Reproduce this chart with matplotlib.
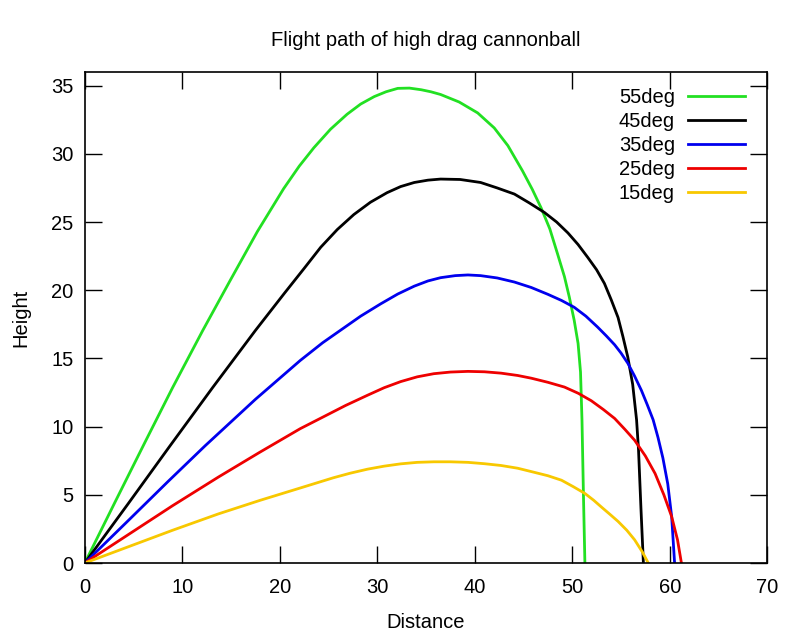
import matplotlib
matplotlib.use("Agg")
import matplotlib.pyplot as plt

plt.rcParams['font.family'] = ['Liberation Sans', 'DejaVu Sans']

labels = ["55deg", "45deg", "35deg", "25deg", "15deg"]
colors = ["#22e022", "#000000", "#0000ee", "#ee0000", "#f8c800"]

x55 = [0, 3.09, 6.17, 9.0, 12.1, 14.9, 17.7, 20.4, 22.0, 23.5, 25.2, 26.9, 28.3, 29.7, 30.9, 32.1, 33.3, 34.5, 35.5, 36.5, 38.4, 40.3, 42.0, 43.4, 44.9, 45.9, 46.8, 47.7, 48.5, 49.2, 49.7, 50.2, 50.6, 50.85, 51.0, 51.15, 51.3]
y55 = [0, 4.45, 8.85, 12.85, 17.05, 20.7, 24.3, 27.45, 29.1, 30.45, 31.8, 32.9, 33.65, 34.2, 34.55, 34.8, 34.82, 34.7, 34.55, 34.35, 33.8, 33.0, 31.9, 30.6, 28.75, 27.4, 26.05, 24.5, 22.65, 21.0, 19.5, 17.8, 16.1, 14.0, 10.5, 5.0, 0.0]

x45 = [0, 4.4, 8.7, 13.1, 17.5, 20.5, 22.5, 24.2, 25.9, 27.6, 29.3, 31.0, 32.4, 33.8, 35.2, 36.5, 38.5, 40.6, 42.3, 44.07, 45.6, 47.15, 48.4, 49.56, 50.6, 51.6, 52.5, 53.3, 54.0, 54.7, 55.2, 55.7, 56.2, 56.6, 56.8, 57.05, 57.3]
y45 = [0, 4.3, 8.55, 12.85, 17.05, 19.8, 21.6, 23.15, 24.45, 25.55, 26.45, 27.15, 27.6, 27.9, 28.07, 28.15, 28.12, 27.9, 27.5, 27.05, 26.4, 25.7, 25.0, 24.2, 23.35, 22.4, 21.5, 20.5, 19.3, 18.0, 16.6, 15.1, 13.1, 10.5, 8.3, 4.0, 0.0]

x35 = [0, 4.3, 8.5, 12.35, 17.5, 22.1, 24.4, 26.1, 28.3, 30.35, 32.1, 33.8, 35.2, 36.5, 38.0, 39.3, 40.6, 42.3, 44.07, 45.8, 47.5, 48.9, 50.2, 51.4, 52.6, 53.5, 54.35, 55.0, 55.7, 56.4, 57.1, 57.7, 58.3, 58.8, 59.3, 59.8, 60.2, 60.5]
y35 = [0, 3.0, 5.95, 8.6, 12.0, 14.85, 16.15, 17.0, 18.1, 19.0, 19.72, 20.3, 20.68, 20.92, 21.07, 21.12, 21.07, 20.9, 20.6, 20.2, 19.7, 19.25, 18.75, 18.1, 17.3, 16.65, 16.0, 15.4, 14.65, 13.7, 12.65, 11.6, 10.5, 9.2, 7.7, 5.8, 3.4, 0.0]

x25 = [0, 4.5, 9.0, 13.7, 17.9, 22.1, 24.7, 26.75, 29.0, 30.7, 32.4, 34.1, 35.8, 37.5, 39.3, 41.0, 42.7, 44.4, 45.8, 47.5, 49.2, 50.6, 51.95, 53.2, 54.35, 55.4, 56.4, 57.5, 58.5, 59.4, 60.2, 60.8, 61.2]
y25 = [0, 2.1, 4.2, 6.3, 8.1, 9.85, 10.8, 11.55, 12.3, 12.85, 13.3, 13.65, 13.88, 14.0, 14.05, 14.02, 13.92, 13.75, 13.55, 13.25, 12.9, 12.45, 11.9, 11.25, 10.6, 9.8, 9.0, 7.85, 6.56, 5.0, 3.4, 1.7, 0.0]

x15 = [0, 4.5, 9.0, 13.7, 18.0, 22.1, 25.5, 27.2, 29.0, 30.7, 32.4, 34.1, 35.8, 37.5, 39.3, 41.0, 42.7, 44.4, 46.1, 47.5, 48.9, 50.1, 51.3, 52.2, 53.0, 53.9, 54.7, 55.6, 56.4, 57.2, 57.8]
y15 = [0, 1.2, 2.4, 3.6, 4.6, 5.5, 6.25, 6.58, 6.88, 7.1, 7.27, 7.38, 7.42, 7.42, 7.38, 7.28, 7.15, 6.95, 6.65, 6.4, 6.07, 5.6, 5.1, 4.6, 4.1, 3.55, 3.05, 2.4, 1.7, 0.8, 0.0]

xs = [x55, x45, x35, x25, x15]
ys = [y55, y45, y35, y25, y15]

fig = plt.figure(figsize=(8, 6.4), dpi=100)
ax = fig.add_axes([0.106, 0.1203, 0.853, 0.7672])

for x, y, lab, c in zip(xs, ys, labels, colors):
    ax.plot(x, y, color=c, lw=2.0, label=lab, solid_joinstyle='round')

ax.set_xlim(0, 70)
ax.set_ylim(0, 36)
ax.set_xticks(range(0, 71, 10))
ax.set_yticks(range(0, 36, 5))
ax.tick_params(direction='in', length=12, width=1.0, top=True, right=True,
               labelsize=14.5, pad=8, colors='black')
ax.tick_params(axis='x', pad=11)
for s in ax.spines.values():
    s.set_linewidth(1.2)

ax.set_xlabel("Distance", fontsize=14.5, labelpad=11)
ax.set_ylabel("Height", fontsize=14.5, labelpad=15)
ax.set_title("Flight path of high drag cannonball", fontsize=14.5, pad=19)

leg = ax.legend(loc='upper right', frameon=False, markerfirst=False,
                fontsize=14.5, handlelength=2.85, handletextpad=0.65,
                labelspacing=0.25, borderaxespad=0.0, borderpad=0.0,
                bbox_to_anchor=(0.968, 0.967))
for t in leg.get_texts():
    t.set_ha('right')

fig.savefig("out.png", dpi=100, facecolor='white')
